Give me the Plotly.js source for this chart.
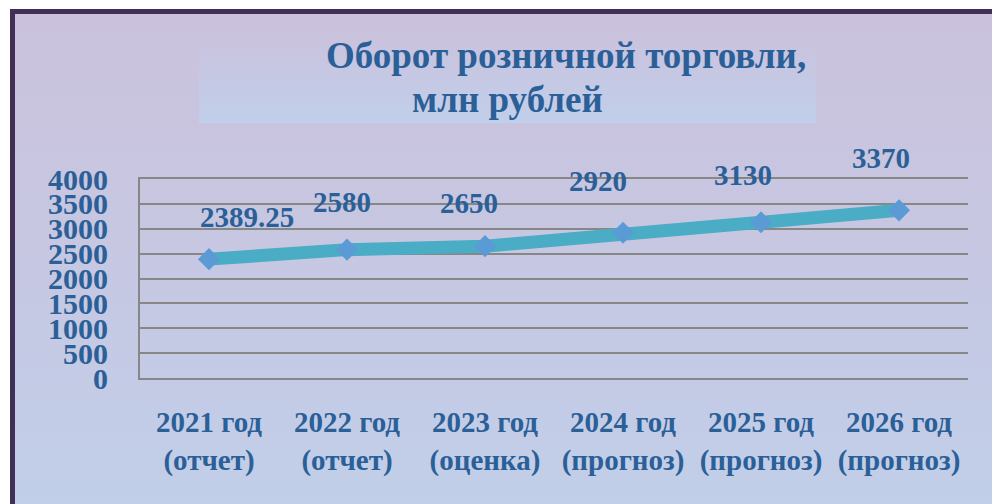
<!DOCTYPE html>
<html>
<head>
<meta charset="utf-8">
<script src="https://cdn.plot.ly/plotly-3.0.1.min.js"></script>
<style>
  html, body { margin: 0; padding: 0; background: #ffffff; }
  #wrap { position: relative; width: 992px; height: 504px; overflow: hidden; background: #ffffff; }
  #frame { position: absolute; left: 10px; top: 9px; width: 987px; height: 500px;
           border-left: 5px solid #403055; border-top: 5px solid #403055;
           background: linear-gradient(to bottom, #CAC2DC 0%, #C7C7E2 45%, #C1CFE9 100%); }
  #tbox { position: absolute; left: 199px; top: 42px; width: 617px; height: 81px;
          background: linear-gradient(to bottom, #C9C3DF 0%, #C1CFEA 100%); }
  #chart { position: absolute; left: 0; top: 0; width: 992px; height: 504px; }
</style>
</head>
<body>
<div id="wrap">
  <div id="frame"></div>
  <div id="tbox"></div>
  <div id="chart"></div>
</div>
<script>
// ---- data ----
const categories = [
  "2021 год<br>(отчет)",
  "2022 год<br>(отчет)",
  "2023 год<br>(оценка)",
  "2024 год<br>(прогноз)",
  "2025 год<br>(прогноз)",
  "2026 год<br>(прогноз)"
];
const values = [2389.25, 2580, 2650, 2920, 3130, 3370];
const valueLabels = ["2389.25", "2580", "2650", "2920", "3130", "3370"];
const yTicks = [0, 500, 1000, 1500, 2000, 2500, 3000, 3500, 4000];
const titleLines = ["Оборот розничной торговли,", "млн рублей"];

// manual label nudges (pixels), like Excel's moved data labels
const labelDx = [38, -5, -16, -25, -18, -18];
const labelDy = [42, 48, 43, 52, 47, 52];

const textColor = "#2B5F97";
const serif = "Liberation Serif, Times New Roman, serif";
const gridColor = "#878787";

const trace = {
  type: "scatter",
  mode: "lines+markers",
  x: categories,
  y: values,
  line: { color: "#4BACC6", width: 13 },
  marker: { symbol: "diamond", size: 17, color: "#5B9BD5", line: { width: 0 } },
  hoverinfo: "skip"
};

const annotations = values.map((v, i) => ({
  x: categories[i], y: v, xref: "x", yref: "y",
  text: valueLabels[i], showarrow: false,
  xanchor: "center", yanchor: "middle",
  xshift: labelDx[i], yshift: labelDy[i],
  font: { family: serif, size: 29, color: textColor, weight: "bold" }
}));

annotations.push({
  xref: "paper", yref: "paper", x: 0.5145, y: 1.623,
  text: titleLines[0], showarrow: false, xanchor: "center", yanchor: "middle",
  font: { family: serif, size: 37, color: textColor, weight: "bold" }
});
annotations.push({
  xref: "paper", yref: "paper", x: 0.4444, y: 1.397,
  text: titleLines[1], showarrow: false, xanchor: "center", yanchor: "middle",
  font: { family: serif, size: 37, color: textColor, weight: "bold" }
});

const layout = {
  width: 992, height: 504,
  margin: { l: 140, r: 24, t: 179, b: 126, pad: 0 },
  paper_bgcolor: "rgba(0,0,0,0)",
  plot_bgcolor: "rgba(0,0,0,0)",
  showlegend: false,
  xaxis: {
    type: "category",
    range: [-0.5, 5.5],
    showgrid: false,
    showline: true, mirror: true, linecolor: gridColor, linewidth: 2,
    ticks: "",
    ticklabelstandoff: 17,
    tickfont: { family: serif, size: 29, color: textColor, weight: "bold" },
    fixedrange: true
  },
  yaxis: {
    range: [0, 4000],
    tickvals: yTicks,
    ticktext: yTicks.map(String),
    showgrid: true, gridcolor: gridColor, gridwidth: 2,
    showline: true, linecolor: gridColor, linewidth: 2,
    zeroline: false,
    ticks: "",
    ticklabelstandoff: 24,
    tickfont: { family: serif, size: 30, color: textColor, weight: "bold" },
    fixedrange: true
  },
  annotations: annotations
};

Plotly.newPlot("chart", [trace], layout, { displayModeBar: false, staticPlot: true });
</script>
</body>
</html>
